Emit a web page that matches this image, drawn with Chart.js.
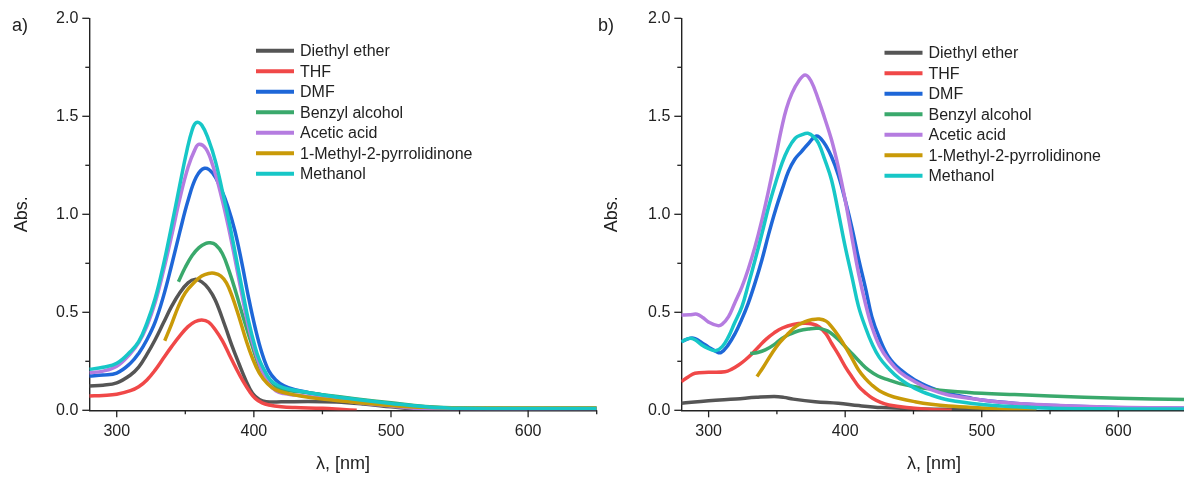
<!DOCTYPE html>
<html>
<head>
<meta charset="utf-8">
<script src="https://cdn.jsdelivr.net/npm/chart.js@4.4.1/dist/chart.umd.min.js"></script>
<style>
  html, body { margin: 0; padding: 0; background: #fff; overflow: hidden; }
  body { width: 1184px; height: 477px; position: relative; }
  .panel { position: absolute; top: 0; width: 600px; height: 477px; }
</style>
</head>
<body>
<div class="panel" style="left:0"><canvas id="chartA" width="600" height="477"></canvas></div>
<div class="panel" style="left:592px"><canvas id="chartB" width="600" height="477"></canvas></div>
<script>
// solvents and their colours (same order in both panels)
const solvents = ['Diethyl ether', 'THF', 'DMF', 'Benzyl alcohol', 'Acetic acid', '1-Methyl-2-pyrrolidinone', 'Methanol'];
const colors = ['#555555', '#f04848', '#1e67d8', '#3aa96c', '#b57ce0', '#c99a08', '#17c7c7'];

const xTicks = [300, 400, 500, 600];
const yTicks = [0.0, 0.5, 1.0, 1.5, 2.0];

// panel a) spectra, [wavelength nm, absorbance]
const aDiethylEther = [[280,0.124],[290,0.128],[300,0.14],[310,0.18],[316,0.22],[322,0.285],[328,0.36],[334,0.445],[340,0.53],[346,0.6],[352,0.65],[357,0.668],[362,0.655],[367,0.62],[372,0.56],[379,0.43],[384,0.33],[389,0.24],[394,0.155],[399,0.087],[404,0.055],[409,0.044],[420,0.043],[440,0.045],[460,0.042],[480,0.032],[500,0.018],[515,0.008],[530,0.003],[550,0.002],[650,0.002]];
const aTHF = [[280,0.073],[290,0.076],[300,0.082],[310,0.1],[316,0.12],[322,0.155],[328,0.205],[334,0.265],[340,0.325],[346,0.38],[352,0.427],[357,0.452],[362,0.461],[367,0.45],[372,0.41],[377,0.355],[382,0.285],[387,0.215],[392,0.15],[397,0.095],[401,0.061],[406,0.038],[411,0.027],[420,0.018],[430,0.014],[450,0.01],[465,0.004],[475,0]];
const aDMF = [[280,0.175],[290,0.18],[300,0.19],[310,0.24],[316,0.29],[322,0.36],[328,0.45],[334,0.58],[340,0.74],[346,0.91],[352,1.07],[358,1.19],[364,1.235],[370,1.21],[376,1.13],[381,1.04],[386,0.92],[391,0.76],[396,0.58],[401,0.42],[406,0.29],[411,0.2],[416,0.155],[422,0.125],[430,0.105],[450,0.078],[475,0.05],[500,0.03],[525,0.015],[550,0.01],[650,0.01]];
const aBenzylAlcohol = [[345,0.656],[350,0.73],[355,0.79],[360,0.83],[365,0.852],[368,0.855],[372,0.845],[377,0.8],[382,0.71],[387,0.6],[392,0.48],[396,0.39],[401,0.28],[404,0.223],[408,0.17],[412,0.135],[418,0.11],[426,0.1],[440,0.09],[450,0.08],[475,0.058],[500,0.038],[525,0.02],[550,0.012],[650,0.01]];
const aAceticAcid = [[280,0.192],[290,0.2],[300,0.225],[310,0.29],[316,0.345],[322,0.43],[328,0.55],[334,0.71],[340,0.89],[346,1.08],[352,1.24],[357,1.33],[360,1.357],[365,1.335],[370,1.25],[376,1.1],[381,0.95],[386,0.78],[391,0.6],[396,0.43],[401,0.3],[406,0.2],[411,0.135],[416,0.1],[422,0.085],[430,0.078],[450,0.062],[475,0.04],[500,0.022],[520,0.01],[540,0.006],[650,0.006]];
const aNMP = [[335,0.355],[340,0.44],[345,0.53],[350,0.6],[357,0.656],[362,0.685],[367,0.698],[371,0.699],[376,0.685],[380,0.65],[384,0.585],[389,0.48],[394,0.365],[399,0.265],[404,0.19],[410,0.135],[416,0.104],[425,0.085],[435,0.072],[450,0.058],[475,0.04],[500,0.025],[525,0.015],[550,0.012],[650,0.012]];
const aMethanol = [[280,0.209],[290,0.22],[300,0.24],[310,0.3],[316,0.35],[322,0.445],[328,0.57],[334,0.74],[340,0.94],[346,1.15],[351,1.32],[355,1.43],[358,1.468],[362,1.455],[367,1.38],[372,1.27],[377,1.12],[382,0.96],[387,0.78],[392,0.6],[396,0.46],[401,0.32],[404,0.257],[408,0.2],[412,0.155],[418,0.125],[426,0.107],[440,0.09],[450,0.078],[475,0.055],[500,0.035],[525,0.018],[550,0.01],[650,0.009]];

// panel b) spectra
const bDiethylEther = [[280,0.036],[300,0.049],[320,0.058],[335,0.066],[348,0.07],[355,0.066],[362,0.057],[378,0.044],[395,0.036],[410,0.024],[427,0.014],[450,0.008],[480,0.004],[510,0.001],[540,0]];
const bTHF = [[280,0.146],[285,0.17],[290,0.189],[300,0.194],[312,0.197],[317,0.21],[322,0.231],[327,0.258],[332,0.29],[337,0.327],[342,0.362],[348,0.395],[354,0.42],[362,0.438],[370,0.444],[376,0.44],[381,0.425],[386,0.39],[390,0.342],[395,0.285],[400,0.223],[405,0.17],[410,0.121],[415,0.088],[420,0.061],[426,0.04],[432,0.027],[445,0.014],[460,0.006],[478,0]];
const bDMF = [[280,0.35],[286,0.367],[290,0.366],[295,0.345],[300,0.322],[305,0.302],[309,0.294],[314,0.33],[319.5,0.393],[324,0.46],[329,0.546],[334,0.65],[339,0.767],[344,0.9],[349,1.022],[354,1.13],[358.5,1.22],[363,1.28],[368,1.32],[373,1.36],[379,1.4],[384,1.37],[390,1.294],[395,1.2],[400,1.073],[405,0.93],[410,0.767],[415,0.62],[419.5,0.478],[425,0.37],[431.7,0.274],[440,0.21],[451,0.155],[463,0.115],[475,0.087],[490,0.065],[500,0.052],[525,0.035],[550,0.025],[600,0.013],[650,0.01]];
const bBenzylAlcohol = [[330.5,0.29],[336,0.295],[341.5,0.308],[348,0.335],[353.7,0.367],[360,0.39],[366,0.406],[373,0.415],[380.5,0.418],[387,0.405],[392.7,0.376],[398,0.34],[404.9,0.29],[411,0.245],[417,0.206],[424,0.175],[431.7,0.155],[440,0.136],[451,0.12],[463,0.108],[475.6,0.099],[500,0.087],[524,0.08],[550,0.073],[600,0.062],[650,0.055]];
const bAceticAcid = [[280,0.486],[286,0.487],[291.5,0.49],[296,0.472],[300,0.45],[306.8,0.432],[310,0.44],[314.6,0.478],[319,0.545],[324.4,0.63],[329,0.72],[334,0.835],[339,0.97],[344,1.124],[349,1.29],[353.7,1.447],[357,1.54],[361,1.617],[366,1.68],[370.7,1.711],[375,1.68],[380.5,1.583],[385,1.49],[390,1.38],[395,1.24],[400,1.073],[405,0.88],[409.8,0.699],[415,0.54],[419.5,0.427],[425,0.33],[431.7,0.257],[440,0.195],[451,0.146],[463,0.105],[475.6,0.078],[500,0.053],[524,0.036],[550,0.027],[600,0.016],[650,0.012]];
const bNMP = [[335.4,0.172],[340,0.22],[346.3,0.29],[352,0.345],[358.5,0.393],[364,0.428],[370.7,0.452],[376,0.463],[381,0.466],[386,0.455],[390,0.427],[395,0.38],[400,0.325],[405,0.265],[409.8,0.206],[415,0.16],[419.5,0.129],[425,0.1],[431.7,0.078],[440,0.06],[451,0.044],[463,0.031],[475.6,0.022],[500,0.012],[520,0.005],[540,0.001]];
const bMethanol = [[280,0.35],[286,0.367],[290,0.36],[295,0.333],[300,0.315],[305,0.304],[310,0.325],[314.6,0.376],[319,0.445],[324.4,0.529],[329,0.64],[334,0.767],[339,0.9],[344,1.04],[349,1.16],[353.7,1.26],[358,1.33],[363.4,1.388],[368,1.405],[372.7,1.413],[377,1.395],[380.5,1.362],[385,1.28],[390,1.175],[395,1.01],[400,0.835],[405,0.68],[409.8,0.529],[415,0.42],[419.5,0.342],[425,0.27],[431.7,0.214],[440,0.16],[451,0.112],[463,0.078],[475.6,0.053],[500,0.03],[525,0.018],[550,0.011],[600,0.007],[650,0.006]];

const panelA = [aDiethylEther, aTHF, aDMF, aBenzylAlcohol, aAceticAcid, aNMP, aMethanol];
const panelB = [bDiethylEther, bTHF, bDMF, bBenzylAlcohol, bAceticAcid, bNMP, bMethanol];

Chart.defaults.font.family = '"Liberation Sans", Arial, sans-serif';
Chart.defaults.color = '#222';

// ticks, legend and panel letter
const panelDecor = {
  id: 'panelDecor',
  afterDraw(chart, args, opts) {
    const ctx = chart.ctx;
    const xs = chart.scales.x, ys = chart.scales.y;
    ctx.save();
    ctx.strokeStyle = '#222';
    ctx.lineWidth = 1.3;
    xs.ticks.forEach(t => {
      const px = xs.getPixelForValue(t.value);
      const len = xTicks.includes(t.value) ? 7 : 4;
      ctx.beginPath(); ctx.moveTo(px, xs.top); ctx.lineTo(px, xs.top + len); ctx.stroke();
    });
    ys.ticks.forEach(t => {
      const py = ys.getPixelForValue(t.value);
      const len = yTicks.includes(t.value) ? 7 : 4;
      ctx.beginPath(); ctx.moveTo(ys.right, py); ctx.lineTo(ys.right - len, py); ctx.stroke();
    });

    // legend
    ctx.font = '16px "Liberation Sans", Arial, sans-serif';
    ctx.textBaseline = 'middle';
    ctx.textAlign = 'left';
    chart.data.datasets.forEach((ds, i) => {
      const y = opts.legendY + i * 20.5;
      ctx.strokeStyle = ds.borderColor;
      ctx.lineWidth = 4;
      ctx.beginPath(); ctx.moveTo(opts.legendX, y); ctx.lineTo(opts.legendX + 38, y); ctx.stroke();
      ctx.fillStyle = '#222';
      ctx.fillText(ds.label, opts.legendX + 44, y + 1);
    });

    // panel letter
    ctx.font = '18px "Liberation Sans", Arial, sans-serif';
    ctx.fillText(opts.letter, opts.letterX, 26);
    ctx.restore();
  }
};

function makePanel(id, series, decor, padRight, yTitlePad) {
  new Chart(document.getElementById(id), {
    type: 'line',
    data: {
      datasets: series.map((pts, i) => ({
        label: solvents[i],
        data: pts.map(p => ({ x: p[0], y: p[1] })),
        borderColor: colors[i],
        borderWidth: 3.5,
        pointRadius: 0,
        tension: 0.4,
        order: series.length - i
      }))
    },
    options: {
      responsive: false,
      animation: false,
      events: [],
      layout: { padding: { top: 18.3, right: padRight, left: 0, bottom: 0 } },
      plugins: { legend: { display: false }, tooltip: { enabled: false }, panelDecor: decor },
      scales: {
        x: {
          type: 'linear', min: 280, max: 650,
          grid: { display: false, drawTicks: false },
          border: { display: true, color: '#222', width: 1.4 },
          ticks: {
            stepSize: 50, includeBounds: false, autoSkip: false, maxRotation: 0, padding: 12,
            font: { size: 16 },
            callback: v => xTicks.includes(v) ? String(v) : ''
          },
          title: { display: true, text: 'λ, [nm]', font: { size: 18 }, padding: { bottom: 2 } },
          afterFit: s => { s.height = 66.7; s.paddingLeft = 0; s.paddingRight = 0; }
        },
        y: {
          type: 'linear', min: 0, max: 2,
          grid: { display: false, drawTicks: false },
          border: { display: true, color: '#222', width: 1.4 },
          ticks: {
            stepSize: 0.25, autoSkip: false, padding: 11,
            font: { size: 16 },
            callback: v => yTicks.includes(v) ? v.toFixed(1) : ''
          },
          title: { display: true, text: 'Abs.', font: { size: 18 }, padding: { top: yTitlePad } },
          afterFit: s => { s.width = 89.3; s.paddingTop = 0; s.paddingBottom = 0; }
        }
      }
    },
    plugins: [panelDecor]
  });
}

makePanel('chartA', panelA, { legendX: 256, legendY: 50.8, letter: 'a)', letterX: 12 }, 3.3, 11);
makePanel('chartB', panelB, { legendX: 292.5, legendY: 52.8, letter: 'b)', letterX: 6 }, 5.4, 9);
</script>
</body>
</html>
